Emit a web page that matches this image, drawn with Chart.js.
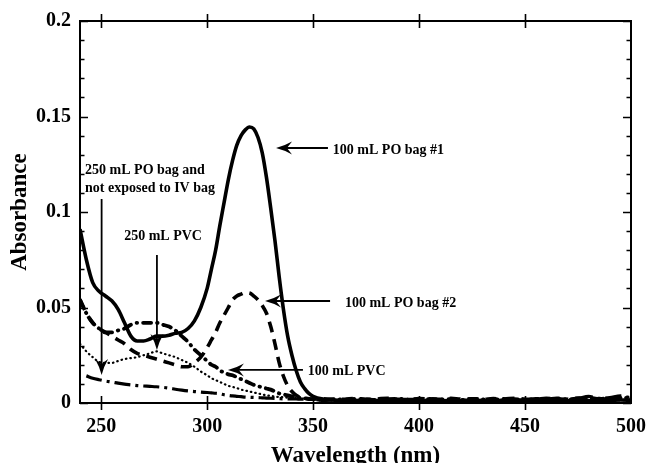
<!DOCTYPE html>
<html>
<head>
<meta charset="utf-8">
<script src="https://cdn.jsdelivr.net/npm/chart.js@4.4.1/dist/chart.umd.min.js"></script>
<style>
html,body{margin:0;padding:0;background:#fff;}
#wrap{width:646px;height:463px;}
</style>
</head>
<body>
<div id="wrap"><canvas id="c" width="646" height="463"></canvas></div>
<script>
// ---- Data ----
const wavelengths = [240,243,246,249,252,255,258,261,264,267,270,273,276,279,282,285,288,291,294,297,300,
  302,304,306,308,310,312,314,316,318,320,322,324,326,328,330,332,334,336,338,340,342,344,346,348,350,
  355,360,365,370,375,380,385,390,395,400,405,410,415,420,425,430,435,440,445,450,455,460,465,470,475,480,485,490,495,500];

const poBag1 = [0.091,0.075,0.063,0.0585,0.056,0.0535,0.049,0.042,0.035,0.0325,0.0325,0.0335,0.035,0.035,0.0355,0.0365,0.037,0.039,0.043,0.050,0.060,
  0.070,0.080,0.093,0.105,0.117,0.127,0.135,0.140,0.143,0.1445,0.1435,0.139,0.131,0.118,0.102,0.085,0.066,0.049,0.035,0.025,0.017,0.011,0.0075,0.005,0.0035,
  0.002,0.0015,0.0012,0.001,0.0013,0.0011,0.001,0.0012,0.0014,0.001,0.0011,0.0013,0.001,0.0012,0.0011,0.0014,0.001,0.0012,0.0013,0.0011,0.001,0.0012,0.0014,0.0011,0.0013,0.0012,0.0015,0.0013,0.0016,0.0014];

const poBag2 = [0.054,0.047,0.042,0.039,0.037,0.035,0.033,0.031,0.028,0.026,0.025,0.024,0.023,0.022,0.021,0.020,0.019,0.019,0.021,0.024,0.029,
  0.033,0.037,0.042,0.046,0.050,0.054,0.056,0.057,0.0578,0.0576,0.056,0.054,0.051,0.047,0.040,0.031,0.021,0.014,0.009,0.006,0.004,0.003,0.0025,0.002,0.002,
  0.0022,0.0018,0.002,0.0024,0.0019,0.0021,0.0025,0.002,0.0018,0.0023,0.0021,0.0019,0.0024,0.002,0.0022,0.0018,0.0023,0.0021,0.0025,0.002,0.0019,0.0024,0.0022,0.002,0.0026,0.0023,0.0021,0.0025,0.0022,0.002];

const pvc100 = [0.054,0.047,0.042,0.039,0.037,0.037,0.038,0.039,0.041,0.042,0.042,0.042,0.042,0.041,0.040,0.038,0.035,0.032,0.028,0.025,0.022,
  0.020,0.019,0.017,0.016,0.015,0.0145,0.0135,0.0125,0.0115,0.0105,0.0095,0.0088,0.0082,0.0076,0.007,0.006,0.005,0.0045,0.004,0.0035,0.003,0.0028,0.0025,0.0022,0.002,
  0.0018,0.002,0.0017,0.0021,0.0019,0.0016,0.002,0.0022,0.0018,0.0017,0.0021,0.0019,0.002,0.0016,0.0022,0.0019,0.0018,0.0021,0.002,0.0017,0.0022,0.0019,0.0024,0.002,0.0023,0.0028,0.0021,0.0025,0.003,0.0022];

const pvc250 = [0.031,0.027,0.024,0.0215,0.021,0.021,0.022,0.023,0.0235,0.024,0.025,0.026,0.027,0.026,0.025,0.024,0.0225,0.021,0.019,0.0165,0.0145,
  0.013,0.012,0.011,0.010,0.009,0.0084,0.0078,0.007,0.0065,0.006,0.0055,0.005,0.0045,0.004,0.0037,0.0034,0.0031,0.003,0.0028,0.0026,0.0025,0.0024,0.0023,0.0022,0.002,
  0.0016,0.0014,0.0015,0.0012,0.0014,0.0013,0.0015,0.0012,0.0014,0.0013,0.0011,0.0014,0.0012,0.0015,0.0013,0.0012,0.0014,0.0013,0.0011,0.0014,0.0012,0.0015,0.0013,0.0016,0.0014,0.0018,0.0015,0.0017,0.0014,0.0016];

const poBag250 = [null,0.0142,0.013,0.0122,0.0115,0.011,0.0104,0.0099,0.0095,0.0091,0.0089,0.0087,0.0085,0.0082,0.0078,0.0072,0.0067,0.0063,0.006,0.0057,0.0055,
  0.0053,0.0051,0.0048,0.0043,0.004,0.0037,0.0035,0.0033,0.0031,0.003,0.0029,0.0028,0.0027,0.0026,0.0025,0.0024,0.0023,0.0022,0.0022,0.0021,0.0021,0.002,0.002,0.0019,0.0019,
  0.0013,0.0016,0.0012,0.0015,0.0011,0.0014,0.0017,0.0012,0.0015,0.0013,0.0016,0.0012,0.0014,0.0017,0.0013,0.0015,0.0012,0.0016,0.0014,0.0018,0.0015,0.0013,0.0019,0.0016,0.0022,0.0035,0.0024,0.0028,0.0038,0.0026];

const xTickValues = [250,300,350,400,450,500];
const yTickValues = [0,0.05,0.1,0.15,0.2];
const seriesNames = ['100 mL PO bag #1','100 mL PO bag #2','100 mL PVC','250 mL PVC','250 mL PO bag and not exposed to IV bag'];

// annotation labels: [text lines, anchor wavelength, anchor absorbance]
const annotationTexts = [
  {lines:['100 mL PO bag #1'], x:359.3, y:0.1325, align:'left', arrow:{x1:357, y1:0.1335, x2:332.5, y2:0.1335}},
  {lines:['100 mL PO bag #2'], x:365, y:0.0524, align:'left', arrow:{x1:358, y1:0.0534, x2:327.3, y2:0.0534}},
  {lines:['100 mL PVC'], x:347.5, y:0.0168, align:'left', arrow:{x1:345.2, y1:0.0173, x2:309.8, y2:0.0173}},
  {lines:['250 mL PVC'], x:279.2, y:0.0874, align:'center', arrow:{x1:276.3, y1:0.0775, x2:276.3, y2:0.0277}},
  {lines:['250 mL PO bag and','not exposed to IV bag'], x:242.4, y:0.122, align:'left', lineGap:0.0094, arrow:{x1:250.2, y1:0.1068, x2:250.2, y2:0.0147}}
];

const SERIF = '"Liberation Serif", "Times New Roman", serif';

function pts(arr){ return wavelengths.map((w,i)=>({x:w, y:arr[i]})); }

const framePlugin = {
  id:'frame',
  afterDraw(chart){
    const ctx = chart.ctx, a = chart.chartArea;
    const xs = chart.scales.x, ys = chart.scales.y;
    ctx.save();
    ctx.strokeStyle = '#000';
    ctx.lineWidth = 2;
    ctx.strokeRect(a.left, a.top, a.right-a.left, a.bottom-a.top);
    ctx.lineWidth = 1.6;
    ctx.beginPath();
    xTickValues.forEach(v=>{
      const px = Math.round(xs.getPixelForValue(v))+0.5;
      if (v >= 500) return;
      ctx.moveTo(px, a.top-7); ctx.lineTo(px, a.top+7);
      ctx.moveTo(px, a.bottom-7); ctx.lineTo(px, a.bottom+7);
    });
    for (let k=0;k<=20;k++){
      const v = k*0.01;
      const py = Math.round(ys.getPixelForValue(v))+0.5;
      const len = (k%5===0)?8:4.5;
      ctx.moveTo(a.left, py); ctx.lineTo(a.left+len, py);
      ctx.moveTo(a.right, py); ctx.lineTo(a.right-len, py);
    }
    ctx.stroke();

    ctx.fillStyle = '#000';
    ctx.font = 'bold 14px ' + SERIF;
    ctx.textBaseline = 'middle';
    annotationTexts.forEach(an=>{
      ctx.textAlign = an.align;
      an.lines.forEach((t,i)=>{
        const yv = an.y - i*(an.lineGap||0);
        ctx.fillText(t, xs.getPixelForValue(an.x), ys.getPixelForValue(yv));
      });
      const ar = an.arrow;
      const x1 = xs.getPixelForValue(ar.x1), y1 = ys.getPixelForValue(ar.y1);
      const x2 = xs.getPixelForValue(ar.x2), y2 = ys.getPixelForValue(ar.y2);
      const ang = Math.atan2(y2-y1, x2-x1);
      const L = 16, W = 6.5;
      ctx.lineWidth = 1.8;
      ctx.beginPath();
      ctx.moveTo(x1,y1);
      ctx.lineTo(x2 - Math.cos(ang)*L*0.6, y2 - Math.sin(ang)*L*0.6);
      ctx.stroke();
      ctx.save();
      ctx.translate(x2,y2); ctx.rotate(ang);
      ctx.beginPath();
      ctx.moveTo(0,0);
      ctx.quadraticCurveTo(-L*0.5, -W*0.3, -L, -W);
      ctx.lineTo(-L*0.68, 0);
      ctx.lineTo(-L, W);
      ctx.quadraticCurveTo(-L*0.5, W*0.3, 0, 0);
      ctx.closePath();
      ctx.fill();
      ctx.restore();
    });
    ctx.restore();
  }
};

const common = {fill:false, pointRadius:0, borderColor:'#000', cubicInterpolationMode:'monotone', spanGaps:false, borderJoinStyle:'round'};

new Chart(document.getElementById('c'), {
  type:'line',
  data:{
    datasets:[
      Object.assign({label:seriesNames[0], data:pts(poBag1), borderWidth:3.6}, common),
      Object.assign({label:seriesNames[1], data:pts(poBag2), borderWidth:3.6, borderDash:[11,7]}, common),
      Object.assign({label:seriesNames[2], data:pts(pvc100), borderWidth:3.8, borderDash:[8,6,0.5,6], borderCapStyle:'round'}, common),
      Object.assign({label:seriesNames[3], data:pts(pvc250), borderWidth:2.2, borderDash:[0.5,4], borderCapStyle:'round'}, common),
      Object.assign({label:seriesNames[4], data:pts(poBag250), borderWidth:3.2, borderDash:[16,5,3,5]}, common)
    ]
  },
  options:{
    responsive:false,
    animation:false,
    devicePixelRatio:1,
    layout:{padding:{left:0, right:15, top:21, bottom:0}},
    plugins:{legend:{display:false}, tooltip:{enabled:false}},
    scales:{
      x:{
        type:'linear', min:240, max:500,
        afterBuildTicks(s){ s.ticks = xTickValues.map(v=>({value:v})); },
        afterFit(s){ s.height = 60; s.paddingLeft = 0; s.paddingRight = 0; },
        grid:{display:false, drawTicks:false},
        border:{display:false},
        ticks:{color:'#000', padding:12, maxRotation:0, font:{family:SERIF, size:20, weight:'bold'}},
        title:{display:true, text:'Wavelength (nm)', color:'#000', padding:{top:0,bottom:-5}, font:{family:SERIF, size:23, weight:'bold', lineHeight:1}}
      },
      y:{
        type:'linear', min:0, max:0.2,
        afterBuildTicks(s){ s.ticks = yTickValues.map(v=>({value:v})); },
        afterFit(s){ s.width = 80; s.paddingTop = 0; s.paddingBottom = 0; },
        grid:{display:false, drawTicks:false},
        border:{display:false},
        ticks:{color:'#000', padding:9, callback:v=>String(+v.toFixed(2)), font:{family:SERIF, size:20, weight:'bold'}},
        title:{display:true, text:'Absorbance', color:'#000', padding:{top:8.5,bottom:0}, font:{family:SERIF, size:23, weight:'bold', lineHeight:1}}
      }
    }
  },
  plugins:[framePlugin]
});
</script>
</body>
</html>
